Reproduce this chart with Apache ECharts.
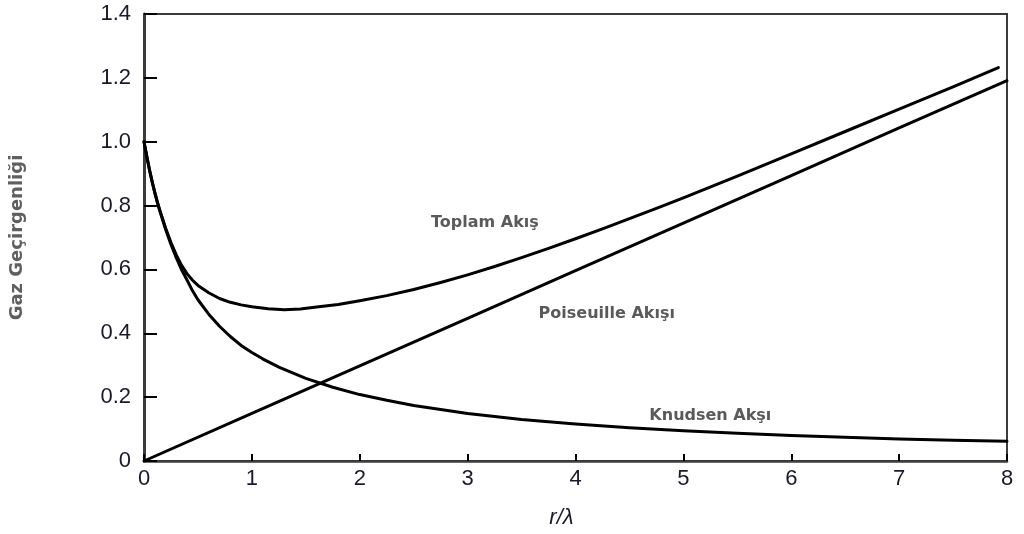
<!DOCTYPE html>
<html>
<head>
<meta charset="utf-8">
<script src="https://cdn.jsdelivr.net/npm/echarts@6/dist/echarts.min.js"></script>
<style>
html,body{margin:0;padding:0;background:#fff;}
#chart{width:1024px;height:534px;}
</style>
</head>
<body>
<div id="chart"></div>
<script>
// r/λ sample points and values
var knudsenX = [0, 0.025, 0.05, 0.075, 0.1, 0.125, 0.15, 0.2, 0.25, 0.3, 0.35, 0.4, 0.45, 0.5, 0.6, 0.7, 0.8, 0.9, 1.0, 1.1, 1.25, 1.5, 1.75, 2, 2.25, 2.5, 2.75, 3, 3.5, 4, 4.5, 5, 5.5, 6, 6.5, 7, 7.5, 8];
var knudsenY = [1.00, 0.955, 0.913, 0.875, 0.84, 0.808, 0.78, 0.726, 0.678, 0.636, 0.598, 0.566, 0.533, 0.505, 0.46, 0.422, 0.39, 0.362, 0.34, 0.32, 0.294, 0.259, 0.231, 0.208, 0.19, 0.174, 0.161, 0.149, 0.130, 0.116, 0.104, 0.095, 0.087, 0.080, 0.074, 0.069, 0.065, 0.062];

var poiseuilleX = [0, 1, 2, 3, 4, 5, 6, 7, 8];
var poiseuilleY = [0, 0.149, 0.298, 0.447, 0.596, 0.745, 0.894, 1.043, 1.191];

var toplamX = [0, 0.025, 0.05, 0.075, 0.1, 0.125, 0.15, 0.2, 0.25, 0.3, 0.35, 0.4, 0.45, 0.5, 0.6, 0.7, 0.8, 0.9, 1.0, 1.15, 1.3, 1.45, 1.6, 1.8, 2.0, 2.25, 2.5, 2.75, 3.0, 3.25, 3.5, 3.75, 4.0, 4.25, 4.5, 4.75, 5.0, 5.5, 6.0, 6.5, 7.0, 7.5, 7.92];
var toplamY = [1.00, 0.956, 0.914, 0.876, 0.842, 0.81, 0.782, 0.73, 0.684, 0.645, 0.612, 0.586, 0.566, 0.55, 0.527, 0.509, 0.497, 0.489, 0.483, 0.477, 0.474, 0.476, 0.482, 0.49, 0.502, 0.518, 0.537, 0.559, 0.583, 0.609, 0.637, 0.666, 0.696, 0.727, 0.759, 0.791, 0.824, 0.892, 0.962, 1.032, 1.102, 1.172, 1.232];

var yTickLabels = ['0', '0.2', '0.4', '0.6', '0.8', '1.0', '1.2', '1.4'];
var xTickLabels = ['0', '1', '2', '3', '4', '5', '6', '7', '8'];

var seriesNames = ['Toplam Akış', 'Poiseuille Akışı', 'Knudsen Akşı'];
var labelAnchors = [[3.16, 0.745], [4.29, 0.461], [5.25, 0.14]];

function pairs(xs, ys) { return xs.map(function (x, i) { return [x, ys[i]]; }); }

var chart = echarts.init(document.getElementById('chart'));
var annoStyle = {
  show: true,
  position: 'inside',
  formatter: '{b}',
  fontFamily: 'DejaVu Sans',
  fontWeight: 'bold',
  fontSize: 16,
  color: '#5a5a5a'
};
function line(name, data, anchor) {
  return {
    name: name,
    type: 'line',
    data: data,
    showSymbol: false,
    smooth: false,
    lineStyle: { color: '#000', width: 3, join: 'round', cap: 'round' },
    z: 5,
    markPoint: {
      symbol: 'circle',
      symbolSize: 0,
      silent: true,
      label: annoStyle,
      data: [{ name: name, coord: anchor }]
    }
  };
}
chart.setOption({
  animation: false,
  backgroundColor: '#fff',
  grid: {
    left: 141, right: 17, top: 14, bottom: 71,
    show: true, borderColor: '#3c3c3c', borderWidth: 2, backgroundColor: 'transparent'
  },
  xAxis: {
    type: 'value', min: 0, max: 8, interval: 1,
    name: 'r/λ',
    nameLocation: 'middle',
    nameGap: 46,
    nameTextStyle: { fontFamily: 'Liberation Sans', fontStyle: 'italic', fontSize: 22, color: '#1a1a2a', padding: [0, 28, 0, 0] },
    axisLine: { show: true, lineStyle: { color: '#3c3c3c', width: 2.5 } },
    axisTick: { show: true, inside: true, length: 7, lineStyle: { color: '#000', width: 2 } },
    axisLabel: {
      margin: 7, fontFamily: 'Liberation Sans', fontSize: 22, color: '#1a1a2a',
      formatter: function (v) { return xTickLabels[Math.round(v)]; }
    },
    splitLine: { show: false }
  },
  yAxis: {
    type: 'value', min: 0, max: 1.4, interval: 0.2,
    name: 'Gaz Geçirgenliği',
    nameLocation: 'middle',
    nameRotate: 90,
    nameGap: 118,
    nameTextStyle: { fontFamily: 'DejaVu Sans', fontWeight: 'bold', fontSize: 18, color: '#5f5f5f' },
    axisLine: { show: true, lineStyle: { color: '#3c3c3c', width: 3 } },
    axisTick: { show: true, inside: true, length: 13, lineStyle: { color: '#000', width: 2 } },
    axisLabel: {
      margin: 13, fontFamily: 'Liberation Sans', fontSize: 22, color: '#1a1a2a',
      formatter: function (v) { return yTickLabels[Math.round(v / 0.2)]; }
    },
    splitLine: { show: false }
  },
  series: [
    line(seriesNames[0], pairs(toplamX, toplamY), labelAnchors[0]),
    line(seriesNames[1], pairs(poiseuilleX, poiseuilleY), labelAnchors[1]),
    line(seriesNames[2], pairs(knudsenX, knudsenY), labelAnchors[2])
  ]
});
</script>
</body>
</html>
